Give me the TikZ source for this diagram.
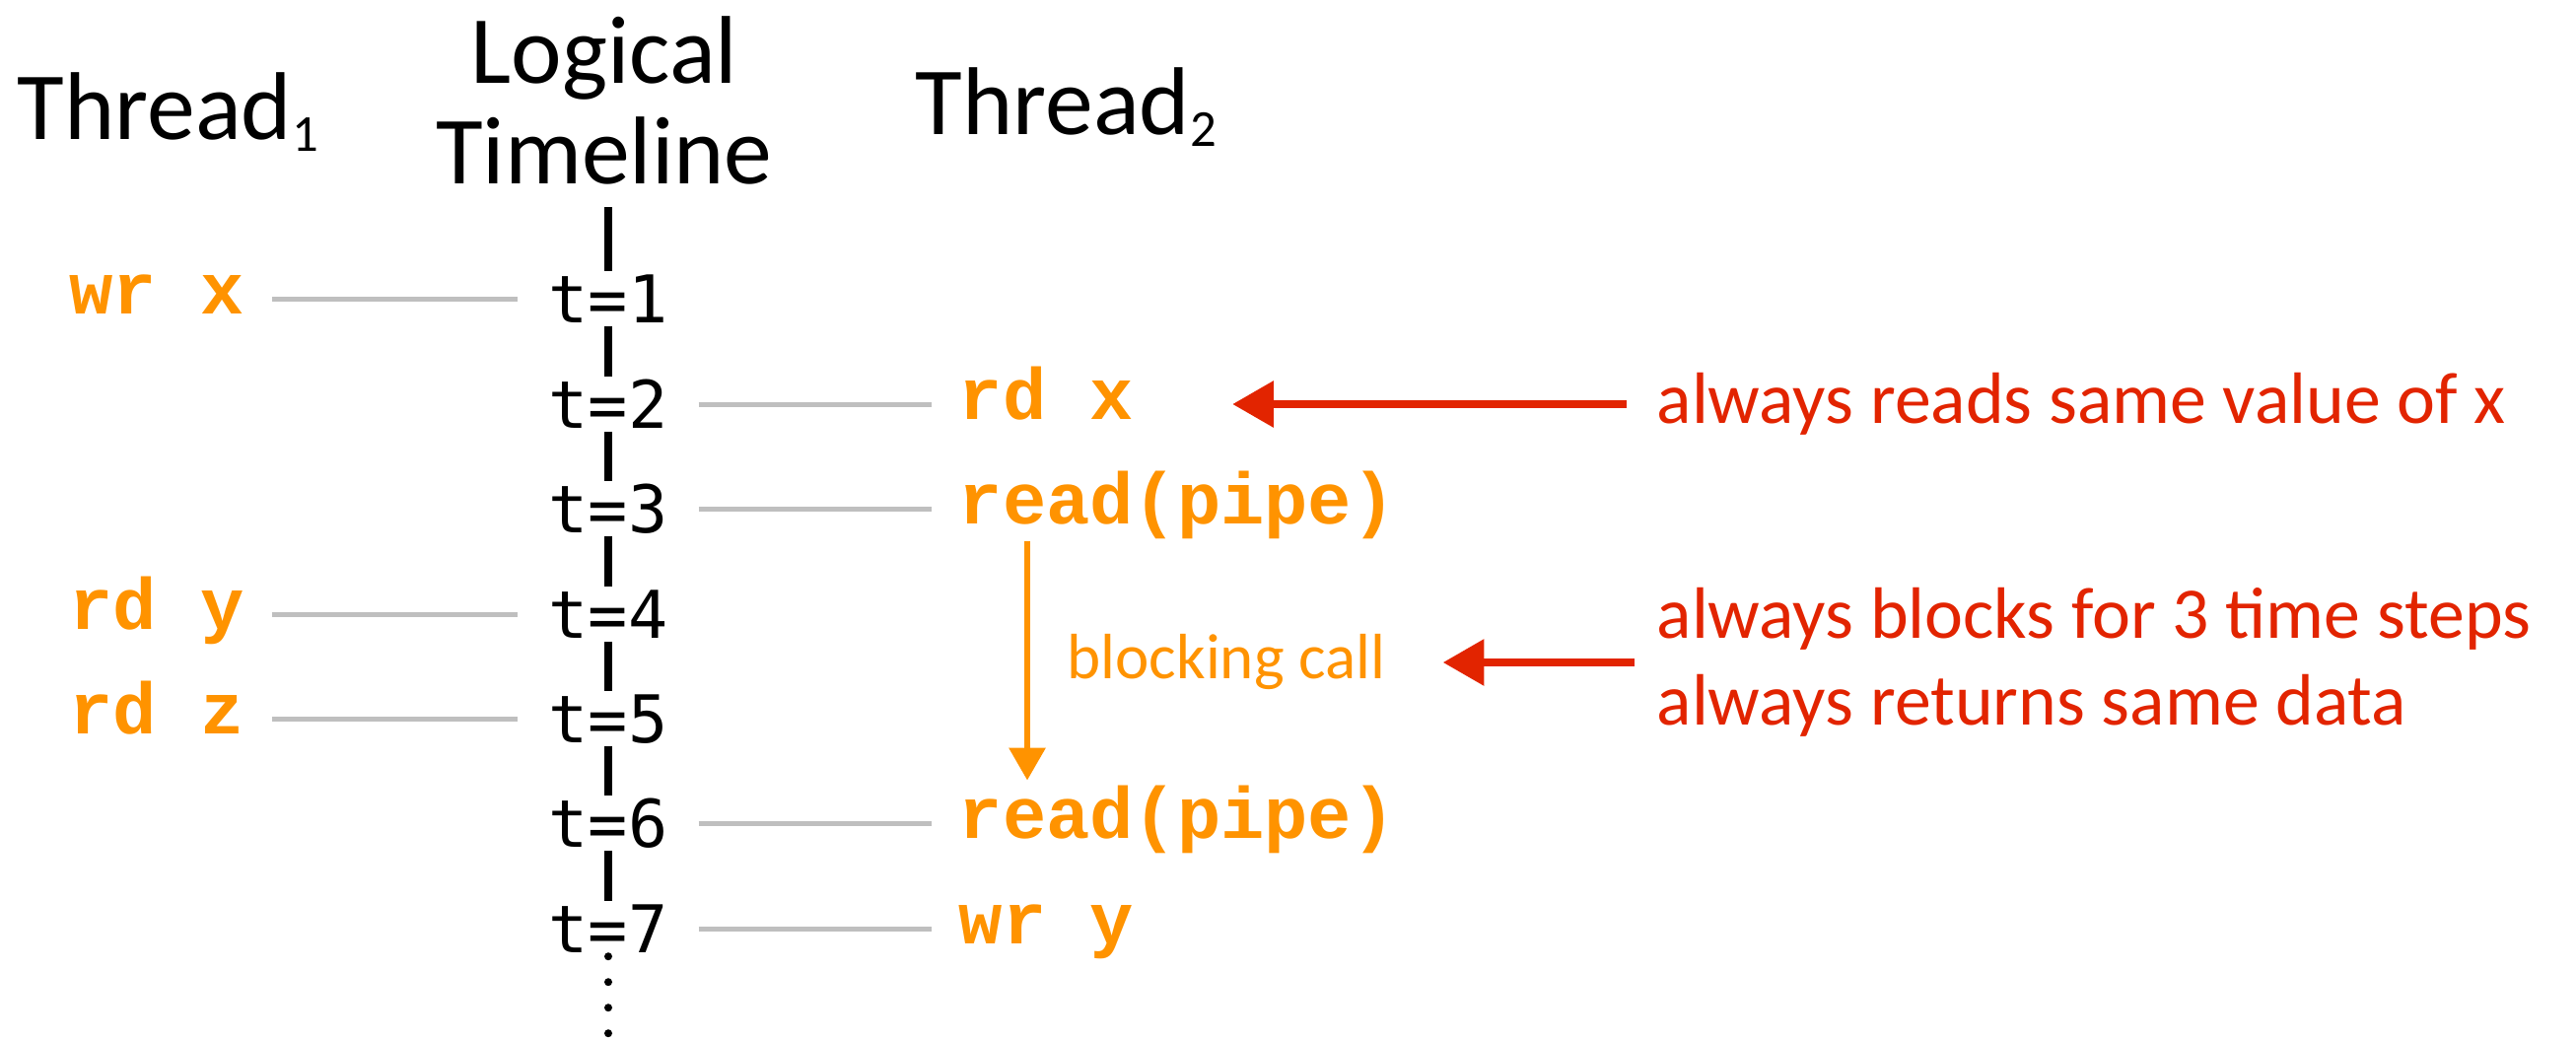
\documentclass[tikz,border=0pt]{standalone}
\usepackage{fontspec}
\setmainfont{Carlito}
\setmonofont{Liberation Mono}
\newfontfamily\tickfont{DejaVu Sans Mono}
\usetikzlibrary{arrows}
\definecolor{opOrange}{RGB}{255,147,0}
\definecolor{noteRed}{RGB}{226,36,0}
\definecolor{linkGray}{RGB}{191,191,191}

\begin{document}
\begin{tikzpicture}
\tikzstyle{title text}=[font=\fontsize{27.8}{29}\selectfont,align=center,inner sep=0]
\tikzstyle{tick text}=[font=\tickfont\fontsize{19}{19}\selectfont,text height=0.48cm,text depth=0cm,inner sep=1pt]
\tikzstyle{op text}=[font=\ttfamily\bfseries\fontsize{21}{21}\selectfont,text=opOrange,text height=0.30cm,text depth=0cm,inner sep=0,anchor=west]
\tikzstyle{note text}=[font=\fontsize{21}{25}\selectfont,text=noteRed,align=left,inner sep=0,anchor=west]
\tikzstyle{link}=[draw=linkGray,line width=0.05cm,shorten <=0.27cm,shorten >=0.27cm]
\tikzstyle{time line}=[line width=0.075cm]

\useasboundingbox (0,0) rectangle (26.13,-10.54);

\node[title text,anchor=base west] (thread1) at (0.17,-1.42) {Thread\raisebox{-0.12cm}{\fontsize{15}{15}\selectfont 1}};
\node[title text] (logical) at (6.13,-1.02) {Logical\\Timeline};
\node[title text,anchor=base west] (thread2) at (9.28,-1.37) {Thread\raisebox{-0.12cm}{\fontsize{15}{15}\selectfont 2}};

\node[tick text] (t1) at (6.17,-3.03) {t=1};
\node[tick text] (t2) at (6.17,-4.10) {t=2};
\node[tick text] (t3) at (6.17,-5.16) {t=3};
\node[tick text] (t4) at (6.17,-6.23) {t=4};
\node[tick text] (t5) at (6.17,-7.29) {t=5};
\node[tick text] (t6) at (6.17,-8.35) {t=6};
\node[tick text] (t7) at (6.17,-9.42) {t=7};
\coordinate (top) at (6.17,-2.10);
\coordinate (bottom) at (6.17,-10.60);

\node[op text] (wrx) at (0.70,-3.03) {wr x};
\node[op text] (rdy) at (0.70,-6.23) {rd y};
\node[op text] (rdz) at (0.70,-7.29) {rd z};

\node[op text] (rdx) at (9.72,-4.10) {rd x};
\node[op text] (read3) at (9.72,-5.16) {read(pipe)};
\node[op text] (read6) at (9.72,-8.35) {read(pipe)};
\node[op text] (wry) at (9.72,-9.42) {wr y};

\node[font=\fontsize{18.5}{18.5}\selectfont,text=opOrange,inner sep=0] (blocking) at (12.44,-6.72) {blocking call};

\node[note text] (note1) at (16.80,-4.10) {always reads same value of x};
\node[note text] (note2) at (16.80,-6.72) {always blocks for 3 time steps\\always returns same data};

% timeline
\draw[time line] (top) -- (t1);
\draw[time line] (t1) -- (t2);
\draw[time line] (t2) -- (t3);
\draw[time line] (t3) -- (t4);
\draw[time line] (t4) -- (t5);
\draw[time line] (t5) -- (t6);
\draw[time line] (t6) -- (t7);
\draw[line width=0.08cm,line cap=round,dash pattern=on 0pt off 0.26cm] (t7) -- (bottom);

% links
\draw[link] (wrx) -- (t1);
\draw[link] (rdy) -- (t4);
\draw[link] (rdz) -- (t5);
\draw[link] (t2) -- (rdx);
\draw[link] (t3) -- (read3);
\draw[link] (t6) -- (read6);
\draw[link] (t7) -- (wry);

% arrows
\draw[draw=opOrange,line width=0.055cm,shorten <=0.17cm,shorten >=0.28cm,-triangle 60] ([xshift=0.70cm]read3.south west) -- ([xshift=0.70cm]read6.north west);
\draw[draw=noteRed,line width=0.08cm,shorten <=0.3cm,shorten >=1.0cm,-triangle 60] (note1.west) -- (rdx.east);
\draw[draw=noteRed,line width=0.08cm,shorten <=0.22cm,shorten >=0.58cm,-triangle 60] (note2.west) -- (blocking.east);
\end{tikzpicture}
\end{document}
